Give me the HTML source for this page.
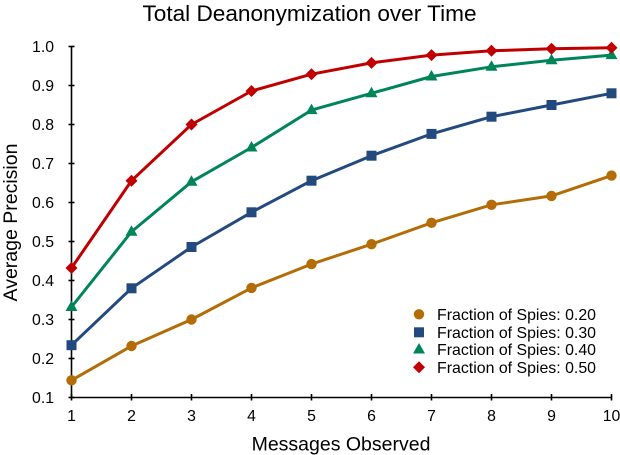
<!DOCTYPE html>
<html><head><meta charset="utf-8"><style>
html,body{margin:0;padding:0;background:#fff;}
svg{display:block;font-family:"Liberation Sans",Arial,sans-serif;}
</style></head><body>
<svg width="620" height="455" viewBox="0 0 620 455" xmlns="http://www.w3.org/2000/svg">
<rect width="620" height="455" fill="#fff"/>
<text x="309.5" y="21" font-size="22.6" text-anchor="middle" fill="#000">Total Deanonymization over Time</text>
<text x="341" y="450.5" font-size="19.5" text-anchor="middle" fill="#000">Messages Observed</text>
<text transform="translate(17,222.5) rotate(-90)" font-size="19.5" text-anchor="middle" fill="#000">Average Precision</text>
<g stroke="#000" stroke-width="1.6" fill="none">
<line x1="71.5" y1="46.5" x2="71.5" y2="398"/>
<line x1="71" y1="397.5" x2="612" y2="397.5"/>
<line x1="68.5" y1="46.5" x2="74.5" y2="46.5"/>
<line x1="68.5" y1="85.5" x2="74.5" y2="85.5"/>
<line x1="68.5" y1="124.5" x2="74.5" y2="124.5"/>
<line x1="68.5" y1="163.5" x2="74.5" y2="163.5"/>
<line x1="68.5" y1="202.5" x2="74.5" y2="202.5"/>
<line x1="68.5" y1="241.5" x2="74.5" y2="241.5"/>
<line x1="68.5" y1="280.5" x2="74.5" y2="280.5"/>
<line x1="68.5" y1="319.5" x2="74.5" y2="319.5"/>
<line x1="68.5" y1="358.5" x2="74.5" y2="358.5"/>
<line x1="68.5" y1="397.5" x2="74.5" y2="397.5"/>
<line x1="71.5" y1="394" x2="71.5" y2="400.5"/>
<line x1="131.5" y1="394" x2="131.5" y2="400.5"/>
<line x1="191.5" y1="394" x2="191.5" y2="400.5"/>
<line x1="251.5" y1="394" x2="251.5" y2="400.5"/>
<line x1="311.5" y1="394" x2="311.5" y2="400.5"/>
<line x1="371.5" y1="394" x2="371.5" y2="400.5"/>
<line x1="431.5" y1="394" x2="431.5" y2="400.5"/>
<line x1="491.5" y1="394" x2="491.5" y2="400.5"/>
<line x1="551.5" y1="394" x2="551.5" y2="400.5"/>
<line x1="611.5" y1="394" x2="611.5" y2="400.5"/>
</g>
<g font-size="15.8" text-anchor="end" fill="#000">
<text x="54" y="52">1.0</text>
<text x="54" y="91">0.9</text>
<text x="54" y="130">0.8</text>
<text x="54" y="169">0.7</text>
<text x="54" y="208">0.6</text>
<text x="54" y="247">0.5</text>
<text x="54" y="286">0.4</text>
<text x="54" y="325">0.3</text>
<text x="54" y="364">0.2</text>
<text x="54" y="403">0.1</text>
</g>
<g font-size="15.8" text-anchor="middle" fill="#000">
<text x="71.5" y="421">1</text>
<text x="131.5" y="421">2</text>
<text x="191.5" y="421">3</text>
<text x="251.5" y="421">4</text>
<text x="311.5" y="421">5</text>
<text x="371.5" y="421">6</text>
<text x="431.5" y="421">7</text>
<text x="491.5" y="421">8</text>
<text x="551.5" y="421">9</text>
<text x="611.5" y="421">10</text>
</g>
<!-- Orange -->
<g fill="#B46D06" stroke="#B46D06">
<polyline fill="none" stroke-width="3" stroke-linejoin="round" points="71.5,380.3 131.5,346 191.5,319.5 251.5,287.9 311.5,264.1 371.5,244.2 431.5,222.8 491.5,204.8 551.5,195.9 611.5,175.6"/>
<g stroke="none">
<circle cx="71.5" cy="380.3" r="5.2"/><circle cx="131.5" cy="346" r="5.2"/><circle cx="191.5" cy="319.5" r="5.2"/><circle cx="251.5" cy="287.9" r="5.2"/><circle cx="311.5" cy="264.1" r="5.2"/><circle cx="371.5" cy="244.2" r="5.2"/><circle cx="431.5" cy="222.8" r="5.2"/><circle cx="491.5" cy="204.8" r="5.2"/><circle cx="551.5" cy="195.9" r="5.2"/><circle cx="611.5" cy="175.6" r="5.2"/>
</g>
</g>
<!-- Blue -->
<g fill="#234A7F" stroke="#234A7F">
<polyline fill="none" stroke-width="3" stroke-linejoin="round" points="71.5,345.2 131.5,288.3 191.5,247 251.5,212.3 311.5,180.7 371.5,155.7 431.5,133.9 491.5,116.7 551.5,105 611.5,93.3"/>
<g stroke="none">
<rect x="66.5" y="340.2" width="10" height="10"/><rect x="126.5" y="283.3" width="10" height="10"/><rect x="186.5" y="242" width="10" height="10"/><rect x="246.5" y="207.3" width="10" height="10"/><rect x="306.5" y="175.7" width="10" height="10"/><rect x="366.5" y="150.7" width="10" height="10"/><rect x="426.5" y="128.9" width="10" height="10"/><rect x="486.5" y="111.7" width="10" height="10"/><rect x="546.5" y="100" width="10" height="10"/><rect x="606.5" y="88.3" width="10" height="10"/>
</g>
</g>
<!-- Green -->
<g fill="#00855A" stroke="#00855A">
<polyline fill="none" stroke-width="3" stroke-linejoin="round" points="71.5,307 131.5,231.75 191.5,181.8 251.5,147.5 311.5,110.1 371.5,93.3 431.5,76.5 491.5,66.8 551.5,60.2 611.5,55.1"/>
<g stroke="none">
<polygon points="71.5,300.5 77.5,311 65.5,311"/>
<polygon points="131.5,225.2 137.5,235.7 125.5,235.7"/>
<polygon points="191.5,175.3 197.5,185.8 185.5,185.8"/>
<polygon points="251.5,141 257.5,151.5 245.5,151.5"/>
<polygon points="311.5,103.6 317.5,114.1 305.5,114.1"/>
<polygon points="371.5,86.8 377.5,97.3 365.5,97.3"/>
<polygon points="431.5,70 437.5,80.5 425.5,80.5"/>
<polygon points="491.5,60.3 497.5,70.8 485.5,70.8"/>
<polygon points="551.5,53.7 557.5,64.2 545.5,64.2"/>
<polygon points="611.5,48.6 617.5,59.1 605.5,59.1"/>
</g>
</g>
<!-- Red -->
<g fill="#C00000" stroke="#C00000">
<polyline fill="none" stroke-width="3" stroke-linejoin="round" points="71.5,268 131.5,180.7 191.5,124.5 251.5,91 311.5,74.2 371.5,62.9 431.5,55.1 491.5,50.8 551.5,48.8 611.5,47.7"/>
<g stroke="none">
<polygon points="71.5,262 77.5,268 71.5,274 65.5,268"/>
<polygon points="131.5,174.7 137.5,180.7 131.5,186.7 125.5,180.7"/>
<polygon points="191.5,118.5 197.5,124.5 191.5,130.5 185.5,124.5"/>
<polygon points="251.5,85 257.5,91 251.5,97 245.5,91"/>
<polygon points="311.5,68.2 317.5,74.2 311.5,80.2 305.5,74.2"/>
<polygon points="371.5,56.9 377.5,62.9 371.5,68.9 365.5,62.9"/>
<polygon points="431.5,49.1 437.5,55.1 431.5,61.1 425.5,55.1"/>
<polygon points="491.5,44.8 497.5,50.8 491.5,56.8 485.5,50.8"/>
<polygon points="551.5,42.8 557.5,48.8 551.5,54.8 545.5,48.8"/>
<polygon points="611.5,41.7 617.5,47.7 611.5,53.7 605.5,47.7"/>
</g>
</g>
<!-- Legend -->
<g font-size="15.9" fill="#000">
<circle cx="419" cy="314.3" r="5.2" fill="#B46D06"/>
<rect x="414" y="327.3" width="10" height="10" fill="#234A7F"/>
<polygon points="419,343 425,353.5 413,353.5" fill="#00855A"/>
<polygon points="419,361.3 425,367.3 419,373.3 413,367.3" fill="#C00000"/>
<text x="437" y="320">Fraction of Spies: 0.20</text>
<text x="437" y="338">Fraction of Spies: 0.30</text>
<text x="437" y="355">Fraction of Spies: 0.40</text>
<text x="437" y="373">Fraction of Spies: 0.50</text>
</g>
</svg>
</body></html>
